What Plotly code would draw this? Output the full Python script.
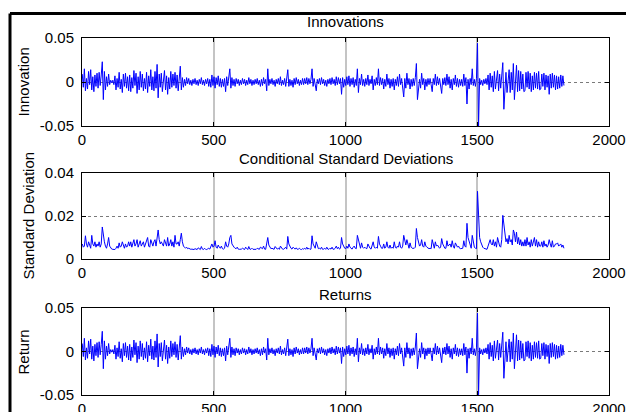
import plotly.graph_objects as go

# Daily series sampled every STEP observations (values in units of 1e-3)
STEP = 4

innovations_milli = [
    9, -6, 15, -10, 4, -8, 12, -3, 14, -9, 6, -11, 8, -5, 10,
    -7, 11, -4, 8, 23, -20, 12, -9, 6, -5, 9, -3, 2, -1, 2,
    -3, 7, -9, 4, -6, 11, -8, 3, -12, 9, -5, 10, -7, 6, -10,
    8, -11, 5, -7, 13, -4, 10, -13, 6, -9, 12, -6, 9, -10, 4,
    -8, 11, -12, 7, -5, 14, -9, 6, -10, 12, -7, 20, -18, 9, -6,
    10, -11, 4, 13, -9, 7, -14, 5, -8, 12, -6, 9, -4, 11, -7,
    8, -10, 6, 18, -9, 5, -6, 3, -4, 5, -2, 4, -3, 2, -4,
    3, -2, 4, -3, 2, -4, 3, -2, 5, -3, 2, -4, 3, -2, 4,
    -5, 3, -6, 8, -4, 6, -7, 5, -3, 7, -5, 4, -6, 3, -5,
    4, -11, 6, -4, 7, 15, -7, 5, -4, 3, -5, 4, -2, 3, -4,
    2, -3, 4, -2, 3, -4, 2, -3, 5, -2, 3, -4, 2, -3, 3,
    -2, 4, -3, 2, -5, 3, -4, 5, -2, 3, -10, 15, -4, 3, -2,
    4, -3, 2, -5, 3, -2, 4, -3, 6, -4, 2, -3, 4, -5, 3,
    14, -5, 3, -4, 2, -6, 4, -3, 5, -2, 3, -4, 2, -3, 4,
    -3, 4, -2, 5, -3, 4, -2, 3, 15, -5, 4, -3, -10, 3, -2,
    4, -3, 5, -2, 3, -4, 2, -5, 3, -2, 4, -3, 5, -2, 3,
    -4, 6, -3, 5, -2, 4, -14, 5, -6, 3, -4, 6, -3, 7, -5,
    4, -3, 5, -6, 3, -4, 15, -12, 4, -3, 9, -4, 3, -5, 4,
    -3, 8, -4, 3, -2, 7, -9, 3, -4, 5, -3, 15, -4, 5, -3,
    4, -8, 3, -5, 9, -3, 4, -7, 3, -5, 4, -9, 3, -4, 6,
    -5, 9, -3, 4, -6, -17, 4, -7, 10, -3, 4, -8, 3, -5, 4,
    -4, 5, 21, -20, -5, 3, -7, 10, -3, 4, -9, 3, -5, 4, -3,
    4, -3, -11, 4, -3, 9, -4, 6, -3, 4, -5, -13, 4, -3, 5,
    -4, 9, -3, 6, -7, 3, -9, 4, -3, 8, -5, 4, -6, 3, -4,
    3, -5, 9, -4, 5, -25, 3, -8, 4, -3, 15, -4, 3, -5, 4,
    44, -50, 4, -3, 2, -4, 3, -2, 4, -3, 8, -9, 10, -6, 7,
    -11, 12, -8, 6, 13, -10, 9, -7, 11, 22, -31, -15, 11, -12, 8,
    14, -12, 11, -9, 21, -20, 10, 19, -11, 13, -10, 12, -8, 9, -11,
    -10, 11, -6, 12, -8, 10, -11, 7, -9, 11, -7, 10, -8, 12, -9,
    -8, 9, -5, 10, -9, 8, -6, 7, -14, 9, -7, 10, -6, 8, -9,
    7, -8, 6, -7, 8, -5, 7, -4,
]

sigma_milli = [
    7, 5.5, 6, 10.8, 7, 5.5, 8, 6, 5, 11, 7, 6, 8, 5.5, 7,
    6, 8, 5.5, 7, 14.9, 11, 8, 6, 5, 7, 10, 6, 5, 4.6, 4.5,
    4.5, 4.4, 5, 6, 5, 7.5, 5.5, 6, 8, 6, 5, 7, 5.5, 6, 8,
    6, 8, 5.5, 7, 9, 6, 7, 9, 5.5, 7, 8.5, 6, 7, 8, 5.5,
    7, 8, 10, 6, 5.5, 9, 7, 6, 8, 9, 6, 10, 13.5, 9, 7,
    8, 7, 6, 9, 7, 6, 10, 6, 7, 9, 6, 8, 5.5, 11, 7,
    7, 8, 6, 9, 12, 8, 6, 5.5, 5, 5.5, 4.8, 5, 4.6, 4.5, 4.6,
    4.5, 4.4, 4.8, 4.5, 4.4, 5.2, 4.5, 4.4, 5.8, 4.6, 4.4, 5, 4.5, 4.4, 4.7,
    5, 4.6, 6, 7, 5.5, 6, 8.5, 5.5, 5, 6.5, 5.5, 5, 6, 4.8, 4.6,
    5, 8, 6, 5.5, 7, 10, 11, 7, 6, 5.5, 5, 4.8, 5.5, 4.6, 4.5,
    4.4, 4.6, 5, 4.5, 4.4, 5.5, 4.6, 4.4, 5.8, 4.6, 4.5, 5, 4.5, 4.4, 4.6,
    4.5, 5, 4.6, 4.5, 5.5, 5, 4.8, 6, 4.6, 4.5, 7, 10, 6.5, 5.5, 4.8,
    5, 4.6, 4.5, 5.8, 5, 4.6, 5, 4.5, 6, 5, 4.6, 4.5, 5, 5.5, 4.6,
    10.5, 7, 5.5, 5, 4.6, 5.5, 5, 4.6, 5.2, 4.5, 4.6, 5, 4.5, 4.4, 4.8,
    4.6, 5, 4.5, 5.5, 4.6, 5, 4.5, 4.6, 10.8, 7, 6, 5, 8, 5.5, 4.8,
    5, 4.6, 5.5, 4.5, 4.6, 5, 4.5, 5.5, 4.6, 4.5, 5, 4.6, 5.5, 4.5, 4.6,
    5, 6, 4.8, 5.5, 4.6, 5, 10, 7, 6, 5, 4.8, 6, 5, 7, 5.5,
    5, 4.6, 5.5, 6, 5, 4.8, 11, 9, 6.5, 5, 7.5, 5.5, 5, 5.5, 5,
    4.8, 7, 5.5, 5, 4.6, 6.5, 8, 5.5, 5, 5.5, 5, 10.5, 7, 6, 5,
    5, 7, 5, 5.5, 8, 5.5, 5, 6.5, 5, 5.5, 5, 8, 5.5, 5, 6,
    5.5, 8, 5.5, 5, 6, 11, 8, 6.5, 9, 6, 5, 7.5, 5.5, 5, 5,
    5, 5.5, 14.2, 10, 7, 6, 6.5, 9, 6, 5.5, 8, 6, 5.5, 5, 4.8,
    5, 4.8, 9, 6.5, 5, 8, 6, 6.5, 5.5, 5, 5.5, 9.5, 7, 5.5, 5,
    5, 8.5, 6, 6.5, 7, 5.5, 8.5, 6, 5, 7.5, 6, 5.5, 6, 5, 4.8,
    4.8, 5, 8.5, 6, 5.5, 16.6, 10, 8, 6.5, 5, 11, 7, 5.5, 5, 4.8,
    31.5, 15, 10, 8, 6.5, 5.5, 5, 4.8, 4.6, 4.5, 6, 8, 9, 7, 6.5,
    9, 6, 8, 5.5, 10, 8, 6, 5.5, 9, 20.3, 16, 12, 8, 9.5, 7,
    11, 8, 9, 6.5, 13.5, 12, 8, 12.5, 7, 10, 6.5, 9, 6, 8, 6,
    9, 6, 10, 6.5, 8, 5.5, 9, 6, 8, 10, 6, 9, 5.5, 8, 6,
    6, 8, 5.5, 8.5, 6, 7, 5.5, 6.5, 9, 7, 5.5, 8.5, 5.5, 6, 7,
    7, 7.5, 6, 6.5, 7, 5.5, 6.5, 5,
]

# Constant mean of the return model: return = mean + innovation
mean_return = 0.0002

x_ticks = [0, 500, 1000, 1500, 2000]
innov_ticks = [-0.05, 0, 0.05]
innov_labels = ["-0.05", "0", "0.05"]
sigma_ticks = [0, 0.02, 0.04]
sigma_labels = ["0", "0.02", "0.04"]

panel_titles = ["Innovations", "Conditional Standard Deviations", "Returns"]
axis_titles = ["Innovation", "Standard Deviation", "Return"]

assert len(innovations_milli) == len(sigma_milli)
obs = [1 + STEP * i for i in range(len(innovations_milli))]
innovations = [v / 1000 for v in innovations_milli]
sigma = [v / 1000 for v in sigma_milli]
returns = [mean_return + e for e in innovations]

W, H = 626, 412
FONT = "Liberation Sans, Arial, Helvetica, sans-serif"
BLUE = "#0000ff"


def px_x(p):
    return p / W


def px_y(p):
    return 1 - p / H


fig = go.Figure()
series = [innovations, sigma, returns]
for k, ys in enumerate(series):
    fig.add_trace(go.Scatter(
        x=obs, y=ys, mode="lines",
        line=dict(color=BLUE, width=1),
        xaxis=f"x{k + 1}" if k else "x", yaxis=f"y{k + 1}" if k else "y",
        showlegend=False, hoverinfo="skip",
    ))

# plot areas (pixel edges)
left, right = 82, 609
panels = [(38, 126), (173, 259), (308, 395)]
y_ranges = [[-0.05, 0.05], [0, 0.04], [-0.05, 0.05]]
y_tickvals = [innov_ticks, sigma_ticks, innov_ticks]
y_ticktext = [innov_labels, sigma_labels, innov_labels]

common_axis = dict(
    showline=True, linecolor="black", linewidth=1, mirror="ticks",
    ticks="inside", ticklen=4, tickcolor="black", tickwidth=1,
    zeroline=False, automargin=False,
    tickfont=dict(family=FONT, size=15, color="black"),
)

layout = {}
for k, (top, bot) in enumerate(panels):
    sx = "" if k == 0 else str(k + 1)
    layout[f"xaxis{sx}"] = dict(
        common_axis, domain=[px_x(left), px_x(right)], range=[0, 2000],
        tickvals=x_ticks, ticktext=[str(v) for v in x_ticks],
        anchor=f"y{sx}", showgrid=True, gridcolor="#c4c4c4", gridwidth=1.5,
    )
    layout[f"yaxis{sx}"] = dict(
        common_axis, domain=[px_y(bot), px_y(top)], range=y_ranges[k],
        tickvals=y_tickvals[k], ticktext=y_ticktext[k],
        anchor=f"x{sx}", showgrid=True, gridcolor="#7a7a7a", gridwidth=1,
        griddash="dot", ticklabelstandoff=4,
    )

fig.update_layout(
    width=W, height=H,
    margin=dict(l=0, r=0, t=0, b=0, pad=0, autoexpand=False),
    paper_bgcolor="white", plot_bgcolor="white",
    font=dict(family=FONT, size=15, color="black"),
    **layout,
)

title_y = [22, 159, 294]
label_pos = [(22.5, 82), (27.5, 216), (22.5, 352)]
annotations = []
for k in range(3):
    annotations.append(dict(
        text=panel_titles[k], xref="paper", yref="paper",
        x=px_x((left + right) / 2), y=px_y(title_y[k]),
        xanchor="center", yanchor="middle", showarrow=False,
        font=dict(family=FONT, size=15, color="black"),
    ))
    lx, ly = label_pos[k]
    annotations.append(dict(
        text=axis_titles[k], xref="paper", yref="paper",
        x=px_x(lx), y=px_y(ly), textangle=-90,
        xanchor="center", yanchor="middle", showarrow=False,
        font=dict(family=FONT, size=15, color="black"),
    ))
fig.update_layout(annotations=annotations)

# figure frame: only its top and left edges fall inside the canvas
frame = dict(color="black", width=3)
fig.add_shape(type="line", xref="paper", yref="paper",
              x0=px_x(10), y0=px_y(13.5), x1=1, y1=px_y(13.5), line=frame)
fig.add_shape(type="line", xref="paper", yref="paper",
              x0=px_x(10), y0=px_y(13.5), x1=px_x(10), y1=0, line=frame)

fig.write_html("out.html")
